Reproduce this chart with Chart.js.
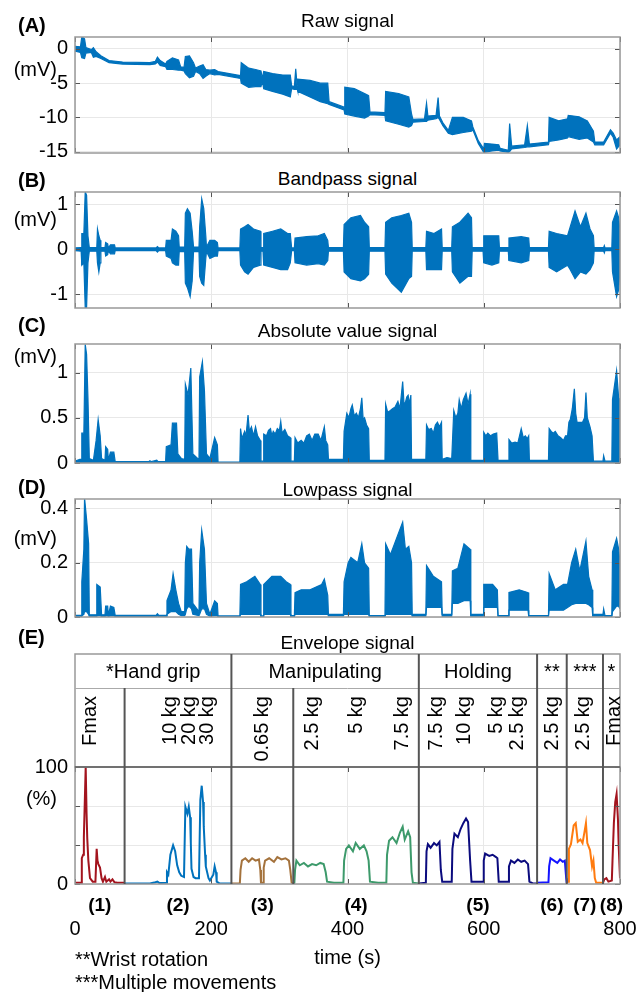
<!doctype html>
<html>
<head>
  <meta charset="utf-8">
  <title>EMG signal processing</title>
  <script src="https://cdn.jsdelivr.net/npm/chart.js@4.4.0/dist/chart.umd.min.js"></script>
  <style>
    body { margin: 0; background: #fff; }
    #page { position: relative; width: 636px; height: 992px; overflow: hidden;
            font-family: "Liberation Sans", Arial, Helvetica, sans-serif; color: #000; }
    canvas { position: absolute; left: 0; }
    .lbl { position: absolute; white-space: nowrap; line-height: 1; z-index: 2; }
    .rot { position: absolute; white-space: nowrap; z-index: 2; font-size: 20px; line-height: 20px;
           writing-mode: vertical-rl; transform: rotate(180deg); }
  </style>
</head>
<body>
<div id="page">
  <canvas id="rawCv" width="636" height="130" style="top:35px"></canvas>
  <canvas id="bandCv" width="636" height="130" style="top:190px"></canvas>
  <canvas id="absCv" width="636" height="133" style="top:342px"></canvas>
  <canvas id="lowCv" width="636" height="132" style="top:497px"></canvas>
  <canvas id="envCv" width="636" height="300" style="top:652px"></canvas>
</div>

<script>
  // ---- data (seconds / mV / %) ----
  var timeTicks = [0, 200, 400, 600, 800];

  // (A) raw signal: upper and lower edge of the trace
  var rawTime = [0, 8, 10, 14, 16, 24, 27, 31, 38, 50,
    70, 110, 118, 121, 125, 133, 135, 143, 152, 155,
    160, 162, 168, 174, 177, 183, 188, 192, 198, 205,
    210, 243, 244, 255, 265, 273, 275, 277, 290, 305,
    316, 318, 322, 324, 326, 327, 345, 360, 371, 373,
    395, 396, 410, 425, 431, 433, 455, 456, 475, 490,
    494, 496, 513, 516, 518, 530, 533, 535, 540, 548,
    554, 570, 582, 584, 592, 600, 601, 612, 622, 624,
    636, 638, 641, 660, 664, 667, 695, 696, 710, 723,
    724, 740, 752, 761, 763, 776, 786, 790, 795, 800];
  var rawHigh = [0.4, 0.3, 1.8, 1.5, 0.2, -0.1, 0.2, -0.4, -1.0, -1.7,
    -1.9, -2.0, -1.8, -1.2, -1.7, -2.2, -1.8, -1.3, -1.6, -2.6,
    -2.7, -1.1, -1.0, -2.0, -2.8, -2.5, -2.3, -3.0, -3.1, -3.0,
    -3.3, -3.9, -2.0, -2.8, -3.0, -3.2, -4.3, -3.3, -3.6, -3.8,
    -3.8, -5.4, -5.5, -2.9, -5.3, -4.4, -4.6, -5.0, -5.0, -7.7,
    -8.5, -5.6, -5.8, -6.5, -6.8, -9.2, -9.3, -6.2, -6.5, -7.0,
    -9.5, -10.3, -10.2, -7.9, -9.8, -9.7, -7.1, -9.8, -10.8, -11.9,
    -10.0, -10.0, -10.5, -11.4, -13.4, -14.6, -13.8, -13.9, -14.0, -14.5,
    -14.8, -10.9, -14.2, -14.0, -11.2, -13.9, -13.6, -10.0, -10.5, -10.2,
    -9.7, -9.9, -10.5, -12.0, -13.6, -13.6, -11.8, -12.3, -13.3, -12.8];
  var rawLow = [-0.3, -0.5, -1.3, -1.4, -0.6, -0.5, -1.2, -1.1, -1.4, -2.0,
    -2.2, -2.3, -2.2, -1.9, -2.4, -2.6, -3.0, -3.0, -3.1, -3.1,
    -3.2, -3.6, -4.2, -4.0, -3.3, -3.6, -4.3, -4.0, -3.6, -3.8,
    -3.7, -4.3, -5.0, -5.6, -5.5, -5.5, -4.7, -5.8, -6.2, -6.6,
    -7.0, -5.8, -5.9, -5.9, -5.8, -6.2, -7.0, -7.7, -8.0, -8.1,
    -8.9, -9.5, -9.8, -10.1, -9.8, -9.6, -9.7, -10.5, -11.0, -11.4,
    -11.2, -10.7, -10.6, -10.6, -10.4, -10.2, -10.0, -10.3, -11.2, -12.3,
    -12.5, -12.2, -12.0, -11.8, -13.8, -15.1, -15.1, -14.9, -14.8, -14.9,
    -15.1, -15.0, -14.6, -14.4, -14.3, -14.3, -14.0, -13.5, -13.3, -13.0,
    -12.8, -13.2, -13.0, -13.6, -14.0, -14.0, -12.3, -12.9, -14.6, -14.0];
  var rawTicks = [-15, -10, -5, 0];

  // (B) bandpass signal
  var bandTime = [0, 9, 10, 13, 15, 17, 19, 21, 32, 33,
    35, 37, 38, 44, 45, 48, 49, 52, 58, 59,
    119, 121, 123, 133, 134, 141, 143, 148, 152, 153,
    161, 162, 165, 169, 172, 174, 182, 183, 186, 189,
    192, 193, 198, 205, 209, 210, 242, 243, 249, 254,
    262, 272, 273, 276, 277, 290, 302, 312, 316, 318,
    322, 323, 340, 357, 366, 371, 372, 394, 395, 405,
    419, 425, 431, 432, 455, 456, 465, 479, 490, 494,
    495, 515, 516, 527, 538, 539, 553, 554, 565, 577,
    582, 583, 599, 600, 612, 622, 623, 636, 637, 655,
    666, 667, 695, 696, 707, 723, 727, 734, 742, 750,
    756, 761, 762, 776, 777, 778, 788, 789, 795, 798, 800];
  var bandHigh = [0.03, 0.04, 0.35, 0.35, 1.27, 1.2, 0.3, 0.04, 0.04, 0.45,
    0.3, 0.2, 0.04, 0.04, 0.15, 0.12, 0.03, 0.1, 0.1, 0.03,
    0.03, 0.06, 0.03, 0.03, 0.2, 0.2, 0.45, 0.4, 0.3, 0.05,
    0.05, 0.8, 0.9, 0.8, 0.4, 0.05, 0.05, 0.5, 1.12, 0.9,
    0.3, 0.05, 0.2, 0.2, 0.15, 0.03, 0.03, 0.45, 0.5, 0.55,
    0.45, 0.4, 0.04, 0.04, 0.35, 0.4, 0.45, 0.35, 0.35, 0.03,
    0.03, 0.25, 0.28, 0.3, 0.35, 0.2, 0.04, 0.04, 0.55, 0.7,
    0.75, 0.6, 0.5, 0.04, 0.04, 0.6, 0.7, 0.75, 0.8, 0.6,
    0.04, 0.04, 0.4, 0.35, 0.45, 0.04, 0.04, 0.5, 0.6, 0.8,
    0.7, 0.04, 0.04, 0.3, 0.3, 0.3, 0.04, 0.04, 0.25, 0.28,
    0.25, 0.04, 0.04, 0.4, 0.35, 0.3, 0.5, 0.85, 0.5, 0.8,
    0.45, 0.3, 0.04, 0.04, 0.08, 0.03, 0.03, 0.6, 0.85, 0.7, 0.4];
  var bandLow = [-0.03, -0.04, -0.35, -0.3, -1.3, -1.3, -0.3, -0.04, -0.04, -0.3,
    -0.5, -0.3, -0.04, -0.04, -0.15, -0.12, -0.03, -0.1, -0.1, -0.03,
    -0.03, -0.06, -0.03, -0.03, -0.15, -0.2, -0.3, -0.35, -0.35, -0.05,
    -0.05, -0.75, -0.85, -1.05, -0.7, -0.05, -0.05, -0.6, -0.75, -0.8,
    -0.2, -0.05, -0.2, -0.15, -0.15, -0.03, -0.03, -0.35, -0.5, -0.55,
    -0.4, -0.35, -0.04, -0.04, -0.35, -0.4, -0.45, -0.45, -0.3, -0.03,
    -0.03, -0.3, -0.35, -0.32, -0.35, -0.25, -0.04, -0.04, -0.5, -0.65,
    -0.7, -0.65, -0.55, -0.04, -0.04, -0.55, -0.75, -0.95, -0.65, -0.6,
    -0.04, -0.04, -0.45, -0.45, -0.45, -0.04, -0.04, -0.5, -0.75, -0.6,
    -0.6, -0.04, -0.04, -0.3, -0.35, -0.3, -0.04, -0.04, -0.25, -0.3,
    -0.25, -0.04, -0.04, -0.4, -0.5, -0.35, -0.45, -0.65, -0.5, -0.55,
    -0.45, -0.3, -0.04, -0.04, -0.08, -0.03, -0.03, -0.5, -1.05, -0.9, -0.4];
  var bandTicks = [-1, 0, 1];

  // (C) absolute value signal (peak outline)
  var absTime = [0, 7, 9, 10, 13, 15, 17, 19, 21, 27,
    31, 34, 37, 39, 44, 45, 48, 49, 52, 57,
    59, 108, 110, 112, 120, 122, 133, 134, 141, 143,
    149, 151, 156, 161, 162, 166, 170, 173, 180, 182,
    183, 187, 190, 193, 198, 205, 209, 210, 242, 243,
    245, 249, 251, 254, 256, 259, 262, 265, 268, 272,
    273, 276, 277, 281, 284, 287, 289, 291, 294, 297,
    300, 302, 304, 308, 312, 316, 317, 322, 323, 327,
    332, 336, 340, 344, 348, 352, 357, 361, 366, 368,
    371, 372, 394, 395, 399, 402, 405, 407, 410, 413,
    416, 419, 421, 423, 425, 428, 431, 432, 455, 456,
    459, 463, 466, 470, 474, 477, 481, 483, 485, 487,
    489, 491, 493, 494, 515, 516, 519, 523, 526, 529,
    532, 535, 538, 539, 546, 553, 556, 559, 562, 564,
    567, 570, 574, 577, 580, 581, 599, 600, 603, 606,
    610, 614, 619, 621, 636, 637, 641, 646, 650, 655,
    658, 661, 664, 666, 667, 695, 696, 699, 702, 705,
    709, 713, 717, 720, 723, 725, 727, 730, 733, 735,
    737, 741, 745, 748, 750, 752, 756, 759, 761, 775,
    776, 778, 788, 789, 795, 798, 800];
  var absValue = [0.02, 0.04, 0.04, 0.33, 0.33, 1.31, 1.2, 0.72, 0.05, 0.03,
    0.25, 0.48, 0.3, 0.05, 0.03, 0.18, 0.15, 0.03, 0.12, 0.12,
    0.015, 0.015, 0.025, 0.015, 0.03, 0.015, 0.015, 0.18, 0.2, 0.44,
    0.44, 0.1, 0.05, 0.04, 0.87, 0.75, 1.05, 0.1, 0.05, 0.05,
    0.95, 1.12, 0.8, 0.1, 0.05, 0.28, 0.2, 0.01, 0.01, 0.38,
    0.27, 0.35, 0.3, 0.53, 0.35, 0.4, 0.3, 0.4, 0.3, 0.25,
    0.02, 0.02, 0.32, 0.3, 0.36, 0.38, 0.3, 0.35, 0.32, 0.38,
    0.36, 0.46, 0.33, 0.37, 0.3, 0.28, 0.02, 0.02, 0.28, 0.22,
    0.25, 0.22, 0.3, 0.32, 0.25, 0.32, 0.32, 0.25, 0.4, 0.25,
    0.2, 0.04, 0.04, 0.35, 0.55, 0.5, 0.6, 0.64, 0.52, 0.55,
    0.5, 0.6, 0.72, 0.48, 0.5, 0.42, 0.38, 0.03, 0.03, 0.65,
    0.56, 0.58, 0.6, 0.62, 0.68, 0.6, 0.9, 0.65, 0.67, 0.73,
    0.75, 0.65, 0.75, 0.04, 0.04, 0.42, 0.37, 0.38, 0.33, 0.42,
    0.45, 0.4, 0.45, 0.04, 0.06, 0.05, 0.58, 0.5, 0.55, 0.7,
    0.6, 0.7, 0.77, 0.65, 0.76, 0.03, 0.03, 0.34, 0.3, 0.33,
    0.3, 0.32, 0.33, 0.03, 0.03, 0.26, 0.22, 0.23, 0.22, 0.38,
    0.28, 0.3, 0.27, 0.3, 0.03, 0.03, 0.38, 0.35, 0.33, 0.35,
    0.3, 0.28, 0.25, 0.3, 0.3, 0.45, 0.48, 0.6, 0.82, 0.55,
    0.45, 0.45, 0.45, 0.5, 0.78, 0.5, 0.4, 0.3, 0.02, 0.02,
    0.08, 0.02, 0.02, 0.7, 1.02, 0.72, 0.7];
  var absTicks = [0, 0.5, 1];

  // (D) lowpass signal
  var lowTime = [0, 9, 10, 13, 14, 17, 20, 21, 31, 32,
    37, 39, 44, 45, 48, 49, 52, 57, 59, 119,
    121, 123, 134, 135, 141, 144, 148, 152, 156, 161,
    162, 164, 167, 171, 173, 182, 183, 186, 190, 193,
    198, 205, 209, 210, 242, 243, 252, 264, 272, 273,
    276, 277, 289, 302, 310, 316, 317, 322, 323, 332,
    345, 362, 366, 371, 372, 394, 395, 401, 405, 415,
    421, 425, 431, 432, 455, 456, 463, 481, 485, 490,
    494, 495, 515, 516, 526, 538, 539, 553, 554, 562,
    571, 580, 581, 599, 600, 613, 620, 621, 636, 637,
    652, 665, 666, 695, 696, 705, 717, 723, 729, 735,
    741, 750, 754, 759, 760, 775, 776, 778, 788, 789,
    795, 798, 800];
  var lowHigh = [0.006, 0.006, 0.13, 0.25, 0.44, 0.36, 0.27, 0.008, 0.008, 0.12,
    0.11, 0.008, 0.008, 0.04, 0.04, 0.006, 0.04, 0.035, 0.006, 0.006,
    0.012, 0.006, 0.006, 0.06, 0.1, 0.16, 0.1, 0.05, 0.02, 0.02,
    0.2, 0.26, 0.25, 0.25, 0.05, 0.02, 0.2, 0.32, 0.25, 0.05,
    0.01, 0.06, 0.05, 0.004, 0.004, 0.12, 0.13, 0.15, 0.12, 0.004,
    0.004, 0.12, 0.15, 0.15, 0.13, 0.12, 0.005, 0.005, 0.09, 0.1,
    0.1, 0.12, 0.14, 0.08, 0.01, 0.01, 0.13, 0.2, 0.22, 0.2,
    0.27, 0.2, 0.18, 0.005, 0.005, 0.27, 0.23, 0.35, 0.25, 0.26,
    0.2, 0.01, 0.01, 0.19, 0.15, 0.13, 0.01, 0.01, 0.17, 0.18,
    0.27, 0.25, 0.01, 0.01, 0.12, 0.12, 0.1, 0.005, 0.005, 0.09,
    0.1, 0.09, 0.005, 0.005, 0.16, 0.1, 0.12, 0.12, 0.2, 0.25,
    0.17, 0.28, 0.15, 0.1, 0.01, 0.01, 0.03, 0.005, 0.005, 0.24,
    0.29, 0.25, 0.2];
  var lowLow = [0.002, 0.002, 0.005, 0.01, 0.02, 0.02, 0.01, 0.002, 0.002, 0.005,
    0.005, 0.002, 0.002, 0.004, 0.004, 0.002, 0.004, 0.004, 0.002, 0.002,
    0.004, 0.002, 0.002, 0.01, 0.02, 0.02, 0.02, 0.01, 0.005, 0.005,
    0.01, 0.03, 0.04, 0.03, 0.01, 0.005, 0.01, 0.03, 0.03, 0.01,
    0.003, 0.005, 0.005, 0.001, 0.001, 0.01, 0.01, 0.01, 0.01, 0.001,
    0.001, 0.01, 0.01, 0.01, 0.01, 0.01, 0.001, 0.001, 0.01, 0.01,
    0.01, 0.01, 0.01, 0.01, 0.004, 0.004, 0.01, 0.01, 0.01, 0.01,
    0.01, 0.01, 0.01, 0.002, 0.002, 0.01, 0.01, 0.01, 0.01, 0.01,
    0.01, 0.003, 0.003, 0.035, 0.035, 0.035, 0.003, 0.003, 0.05, 0.05,
    0.06, 0.06, 0.003, 0.003, 0.035, 0.035, 0.035, 0.002, 0.002, 0.025,
    0.025, 0.025, 0.002, 0.002, 0.025, 0.025, 0.025, 0.035, 0.045, 0.05,
    0.05, 0.05, 0.045, 0.035, 0.003, 0.003, 0.005, 0.002, 0.002, 0.02,
    0.04, 0.04, 0.03];
  var lowTicks = [0, 0.2, 0.4];

  // (E) envelope, one trace per task segment (% of Fmax)
  var env1Time = [0, 9, 10, 12, 13, 15.7, 17, 18, 19.6, 22, 26, 30, 31.8, 33, 34.3, 36.7, 39, 41, 44, 46, 50, 52, 55, 58, 62, 72.8];
  var env1Value = [1, 1, 22, 25, 40, 100, 60, 39, 20, 5, 2, 2, 30, 20, 17, 14, 5, 2, 6, 2, 4, 2, 4, 1.5, 1, 1];
  var env2Time = [72.8, 110, 118, 121, 124, 134, 135, 137, 140, 144, 147, 150, 153, 156, 160, 162, 165, 167, 169, 170,
    171, 174, 177, 182, 184, 186, 188, 189, 191, 192, 196, 198, 203, 205, 207, 208, 212, 229.6];
  var env2Value = [0.5, 0.5, 1.5, 2, 0.8, 1, 10, 8, 25, 33, 28, 16, 10, 7, 6, 66, 60, 66, 57, 35,
    13, 6, 5, 5, 72, 84, 70, 49, 25, 15, 5, 3, 8, 15, 10, 2, 0.5, 0.5];
  var env3Time = [229.6, 242, 243, 245, 250, 255, 260, 265, 270, 272, 273, 276, 277, 279, 285, 292, 297, 303, 309, 314, 316, 318, 320.4];
  var env3Value = [0.5, 0.5, 12, 20, 22, 19, 22, 20, 21, 12, 1, 1, 14, 20, 22, 19, 23, 21, 22, 20, 12, 1, 0.5];
  var env4Time = [320.4, 322, 323, 325, 330, 336, 342, 348, 354, 360, 365, 368, 370, 380, 394, 395, 398, 402, 408, 412,
    418, 424, 428, 431, 433, 445, 457, 458, 461, 466, 472, 477, 481, 484, 489, 492, 494, 496, 504.7];
  var env4Value = [0.5, 1, 12, 20, 16, 18, 15, 17, 16, 18, 17, 10, 2, 1, 1, 20, 30, 33, 28, 35,
    30, 33, 28, 20, 2, 1, 1, 25, 37, 40, 35, 44, 49, 38, 45, 40, 10, 1, 0.5];
  var env5Time = [504.7, 515, 516, 518, 522, 527, 531, 535, 537, 539, 553, 554, 557, 562, 566, 570, 574, 577, 580, 582,
    599, 600, 602, 608, 613, 618, 620, 622, 636, 637, 640, 645, 650, 655, 660, 665, 667, 672, 678.3];
  var env5Value = [0.5, 1, 28, 34, 31, 35, 33, 36, 12, 2, 2, 30, 43, 40, 47, 52, 56, 53, 20, 2,
    2, 20, 26, 24, 25, 23, 22, 2, 2, 15, 20, 18, 21, 19, 20, 17, 2, 0.5, 0.5];
  var env6Time = [678.3, 695, 696, 698, 703, 708, 712, 716, 719, 721, 721.8];
  var env6Value = [1, 1.5, 15, 22, 20, 18, 21, 19, 20, 5, 1];
  var env7Time = [721.8, 724, 725, 728, 732, 735, 738, 742, 745, 748, 750, 752, 756, 759, 761, 763, 765, 775];
  var env7Value = [1, 2, 30, 34, 50, 52, 36, 38, 35, 45, 52, 35, 29, 15, 20, 5, 1, 1];
  var env8Time = [775, 777, 780, 783, 788, 789, 791, 793, 795, 797, 798, 800];
  var env8Value = [1, 4, 5, 2, 3, 20, 52, 70, 77, 55, 34, 5];
  var envTicks = [0, 100 / 3, 200 / 3, 100];
  var envTickText = ['0', '', '', '100'];

  // task annotation of panel E
  var groupNames = ['*Hand grip', 'Manipulating', 'Holding', '**', '***', '*'];
  var groupEdges = [0, 229.6, 504.7, 678.3, 721.8, 775, 800];
  var segNames = ['(1)', '(2)', '(3)', '(4)', '(5)', '(6)', '(7)', '(8)'];
  var segEdges = [0, 72.8, 229.6, 320.4, 504.7, 678.3, 721.8, 775, 800];
  var loadNames = ['Fmax', '10 kg', '20 kg', '30 kg', '0.65 kg', '2.5 kg', '5 kg', '7.5 kg',
    '7.5 kg', '10 kg', '5 kg', '2.5 kg', '2.5 kg', '2.5 kg', 'Fmax'];
  var loadTimes = [21, 138, 166, 193, 273, 347, 411, 478, 528, 569, 617, 647, 699, 744, 789];

  // ---- drawing ----
  var BLUE = '#0072BD';
  var FONT = '"Liberation Sans", Arial, Helvetica, sans-serif';
  Chart.defaults.font.family = FONT;
  Chart.defaults.font.size = 20;
  Chart.defaults.color = '#000';

  function pts(xs, ys) {
    return xs.map(function (x, i) { return { x: x, y: ys[i] }; });
  }

  // matlab-like box with inward tick marks
  var frame = {
    id: 'frame',
    afterDatasetsDraw: function (chart) {
      var ctx = chart.ctx, a = chart.chartArea, sx = chart.scales.x, sy = chart.scales.y;
      ctx.save();
      ctx.strokeStyle = '#555';
      ctx.lineWidth = 1;
      ctx.beginPath();
      sx.ticks.forEach(function (t) {
        var p = Math.round(sx.getPixelForValue(t.value)) + 0.5;
        ctx.moveTo(p, a.bottom); ctx.lineTo(p, a.bottom - 5);
        ctx.moveTo(p, a.top); ctx.lineTo(p, a.top + 5);
      });
      sy.ticks.forEach(function (t) {
        var p = Math.round(sy.getPixelForValue(t.value)) + 0.5;
        ctx.moveTo(a.left, p); ctx.lineTo(a.left + 5, p);
        ctx.moveTo(a.right, p); ctx.lineTo(a.right - 5, p);
      });
      ctx.stroke();
      ctx.strokeStyle = '#999';
      ctx.lineWidth = 1.5;
      ctx.strokeRect(a.left, a.top, a.right - a.left, a.bottom - a.top);
      ctx.restore();
    }
  };

  // header rows and segment separators of panel E
  var header = {
    id: 'header',
    afterDraw: function (chart) {
      var ctx = chart.ctx, a = chart.chartArea, sx = chart.scales.x;
      var top = a.top - 113, row = a.top - 79;
      ctx.save();
      ctx.strokeStyle = '#999';
      ctx.lineWidth = 1.5;
      ctx.strokeRect(a.left, top, a.right - a.left, a.top - top);
      ctx.lineWidth = 1;
      ctx.strokeStyle = '#aaa';
      ctx.beginPath(); ctx.moveTo(a.left, row + 0.5); ctx.lineTo(a.right, row + 0.5); ctx.stroke();
      ctx.strokeStyle = '#444';
      ctx.lineWidth = 1.2;
      ctx.beginPath(); ctx.moveTo(a.left, a.top); ctx.lineTo(a.right, a.top); ctx.stroke();
      ctx.strokeStyle = '#555';
      ctx.lineWidth = 2;
      segEdges.slice(1, -1).forEach(function (t) {
        var p = sx.getPixelForValue(t);
        var y0 = groupEdges.indexOf(t) >= 0 ? top : row;
        ctx.beginPath(); ctx.moveTo(p, y0); ctx.lineTo(p, a.bottom); ctx.stroke();
      });
      ctx.restore();
    }
  };

  function makeOptions(yMin, yMax, yTicks, yText, padTop, padBottom) {
    return {
      responsive: false,
      animation: false,
      events: [],
      layout: { padding: { top: padTop, right: 16, bottom: padBottom, left: 0 } },
      plugins: { legend: { display: false }, tooltip: { enabled: false } },
      scales: {
        x: {
          type: 'linear', min: 0, max: 800,
          afterBuildTicks: function (s) { s.ticks = timeTicks.map(function (v) { return { value: v }; }); },
          afterFit: function (s) { s.height = 0; s.paddingLeft = 0; s.paddingRight = 0; },
          ticks: { display: false },
          grid: { color: '#e8e8e8', drawTicks: false },
          border: { display: false }
        },
        y: {
          min: yMin, max: yMax,
          afterBuildTicks: function (s) { s.ticks = yTicks.map(function (v) { return { value: v }; }); },
          afterFit: function (s) { s.width = 75; s.paddingTop = 0; s.paddingBottom = 0; },
          ticks: {
            padding: 7, font: { size: 20 },
            callback: function (v, i) { return yText ? yText[i] : String(v); }
          },
          grid: { color: '#e8e8e8', drawTicks: false },
          border: { display: false }
        }
      }
    };
  }

  function band(id, xs, hi, lo, yMin, yMax, yTicks) {
    return new Chart(document.getElementById(id), {
      type: 'line',
      data: {
        datasets: [
          { data: pts(xs, hi), borderColor: BLUE, backgroundColor: BLUE, borderWidth: 1.2, pointRadius: 0, fill: '+1' },
          { data: pts(xs, lo), borderColor: BLUE, borderWidth: 1.2, pointRadius: 0, fill: false }
        ]
      },
      options: makeOptions(yMin, yMax, yTicks, null, 2, 12),
      plugins: [frame]
    });
  }

  band('rawCv', rawTime, rawHigh, rawLow, -15.2, 1.75, rawTicks);
  band('bandCv', bandTime, bandHigh, bandLow, -1.3, 1.27, bandTicks);
  new Chart(document.getElementById('absCv'), {
    type: 'line',
    data: {
      datasets: [{ data: pts(absTime, absValue), borderColor: BLUE, backgroundColor: BLUE,
        borderWidth: 1.2, pointRadius: 0, fill: 'origin' }]
    },
    options: makeOptions(0, 1.315, absTicks, null, 2, 12),
    plugins: [frame]
  });
  band('lowCv', lowTime, lowHigh, lowLow, 0, 0.435, lowTicks);

  var envSeries = [
    [env1Time, env1Value, '#A3141E'], [env2Time, env2Value, '#0072BD'],
    [env3Time, env3Value, '#A4723C'], [env4Time, env4Value, '#3D9A6B'],
    [env5Time, env5Value, '#0B0B7E'], [env6Time, env6Value, '#1414FF'],
    [env7Time, env7Value, '#FF7B0F'], [env8Time, env8Value, '#A3141E']
  ];
  var envChart = new Chart(document.getElementById('envCv'), {
    type: 'line',
    data: {
      datasets: envSeries.map(function (s) {
        return { data: pts(s[0], s[1]), borderColor: s[2], borderWidth: 2, pointRadius: 0, fill: false };
      })
    },
    options: makeOptions(0, 100, envTicks, envTickText, 115, 68),
    plugins: [frame, header]
  });

  // ---- text ----
  var page = document.getElementById('page');
  function text(str, x, y, opt) {
    opt = opt || {};
    var d = document.createElement('div');
    d.className = 'lbl';
    d.textContent = str;
    d.style.fontSize = (opt.size || 20) + 'px';
    if (opt.bold) d.style.fontWeight = 'bold';
    d.style.left = x + 'px';
    d.style.top = y + 'px';
    var tx = opt.align === 'left' ? '0' : opt.align === 'right' ? '-100%' : '-50%';
    d.style.transform = 'translate(' + tx + ',-50%)';
    page.appendChild(d);
    return d;
  }

  var panels = [['(A)', 'Raw signal', 25, 20, 69, '(mV)'], ['(B)', 'Bandpass signal', 180, 178, 219, '(mV)'],
    ['(C)', 'Absolute value signal', 325, 330, 356, '(mV)'], ['(D)', 'Lowpass signal', 487, 489, 538, '(mV)'],
    ['(E)', 'Envelope signal', 637, 642, 798, '(%)']];
  panels.forEach(function (p) {
    text(p[0], 18, p[2], { bold: true, align: 'left' });
    text(p[1], 347.5, p[3], { size: 19 });
    text(p[5], 57, p[4], { align: 'right' });
  });

  var sx = envChart.scales.x;
  for (var g = 0; g < groupNames.length; g++) {
    text(groupNames[g], sx.getPixelForValue((groupEdges[g] + groupEdges[g + 1]) / 2), 671);
  }
  for (var s = 0; s < segNames.length; s++) {
    text(segNames[s], sx.getPixelForValue((segEdges[s] + segEdges[s + 1]) / 2), 904, { bold: true, size: 19 });
  }
  timeTicks.forEach(function (t) {
    text(String(t), sx.getPixelForValue(t), 928);
  });
  loadNames.forEach(function (n, i) {
    var d = document.createElement('div');
    d.className = 'rot';
    d.textContent = n;
    d.style.left = (sx.getPixelForValue(loadTimes[i]) - 10) + 'px';
    d.style.top = '696px';
    page.appendChild(d);
  });
  text('time (s)', 347.5, 957);
  text('**Wrist rotation', 75, 959, { align: 'left' });
  text('***Multiple movements', 75, 982, { align: 'left' });
</script>
</body>
</html>
